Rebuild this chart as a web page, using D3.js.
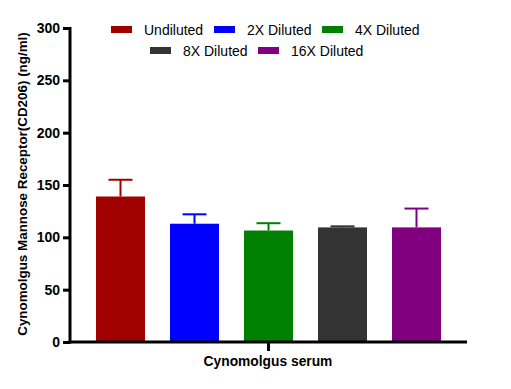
<!DOCTYPE html>
<html>
<head>
<meta charset="utf-8">
<script src="https://cdn.jsdelivr.net/npm/d3@7"></script>
<style>
  body { margin: 0; background: #fff; }
  text { font-family: "Liberation Sans", Arial, sans-serif; }
</style>
</head>
<body>
<div id="chart"></div>
<script>
var groups = ["Undiluted", "2X Diluted", "4X Diluted", "8X Diluted", "16X Diluted"];
var means = [139, 113, 106.5, 109.5, 109.5];
var errs = [16, 9, 7, 1, 18];
var colors = ["#a00000", "#0000ff", "#008000", "#333333", "#800080"];
var yTicks = [0, 50, 100, 150, 200, 250, 300];

var svgWidth = 511;
var svgHeight = 389;

var margin = { top: 28, right: 44, bottom: 47, left: 70 };
var chartWidth = svgWidth - margin.left - margin.right;
var chartHeight = svgHeight - margin.top - margin.bottom;

var svg = d3.select("#chart")
  .append("svg")
  .attr("width", svgWidth)
  .attr("height", svgHeight);

var chartGroup = svg.append("g")
  .attr("transform", `translate(${margin.left}, ${margin.top})`);

var yScale = d3.scaleLinear()
  .domain([0, 300])
  .range([chartHeight, 0]);

var xScale = d3.scaleBand()
  .domain(groups)
  .range([26, 371])
  .paddingInner(0.338)
  .paddingOuter(0);

// bars
chartGroup.selectAll("rect.bar")
  .data(groups)
  .enter()
  .append("rect")
  .classed("bar", true)
  .attr("x", d => xScale(d))
  .attr("width", xScale.bandwidth())
  .attr("y", (d, i) => yScale(means[i]))
  .attr("height", (d, i) => chartHeight - yScale(means[i]))
  .attr("fill", (d, i) => colors[i]);

// error bars
var errGroup = chartGroup.selectAll("g.err")
  .data(groups)
  .enter()
  .append("g")
  .classed("err", true)
  .attr("stroke", (d, i) => colors[i])
  .attr("stroke-width", 2);

errGroup.append("line")
  .attr("x1", d => xScale(d) + xScale.bandwidth() / 2)
  .attr("x2", d => xScale(d) + xScale.bandwidth() / 2)
  .attr("y1", (d, i) => yScale(means[i]))
  .attr("y2", (d, i) => yScale(means[i] + errs[i]));

errGroup.append("line")
  .attr("x1", d => xScale(d) + xScale.bandwidth() / 2 - 12)
  .attr("x2", d => xScale(d) + xScale.bandwidth() / 2 + 12)
  .attr("y1", (d, i) => yScale(means[i] + errs[i]))
  .attr("y2", (d, i) => yScale(means[i] + errs[i]));

// y axis
var leftAxis = d3.axisLeft(yScale)
  .tickValues(yTicks)
  .tickSize(7)
  .tickPadding(3);

var yAxis = chartGroup.append("g")
  .call(leftAxis);
yAxis.select(".domain").attr("stroke", "#000").attr("stroke-width", 3)
  .attr("d", `M0,${chartHeight + 1.5}V-1`);
yAxis.selectAll(".tick line").attr("stroke", "#000").attr("stroke-width", 3);
yAxis.selectAll(".tick text")
  .style("font-size", "14px")
  .style("font-weight", "bold")
  .attr("fill", "#000");

// x axis
chartGroup.append("line")
  .attr("x1", -1.5).attr("x2", 397)
  .attr("y1", chartHeight).attr("y2", chartHeight)
  .attr("stroke", "#000").attr("stroke-width", 3);

chartGroup.append("line")
  .attr("x1", 198.5).attr("x2", 198.5)
  .attr("y1", chartHeight).attr("y2", chartHeight + 9)
  .attr("stroke", "#000").attr("stroke-width", 3);

chartGroup.append("text")
  .attr("x", 198)
  .attr("y", chartHeight + 24)
  .attr("text-anchor", "middle")
  .style("font-size", "13.8px")
  .style("font-weight", "bold")
  .text("Cynomolgus serum");

// y axis title
svg.append("text")
  .attr("transform", `translate(27, ${margin.top + chartHeight / 2 - 1}) rotate(-90)`)
  .attr("text-anchor", "middle")
  .style("font-size", "13.4px")
  .style("font-weight", "bold")
  .text("Cynomolgus Mannose Receptor(CD206) (ng/ml)");

// legend
var legendPos = [
  { x: 111, y: 30 }, { x: 214, y: 30 }, { x: 322, y: 30 },
  { x: 150, y: 51 }, { x: 258, y: 51 }
];

var legend = svg.selectAll("g.legend")
  .data(groups)
  .enter()
  .append("g")
  .classed("legend", true)
  .attr("transform", (d, i) => `translate(${legendPos[i].x}, ${legendPos[i].y})`);

legend.append("rect")
  .attr("x", 0).attr("y", -4)
  .attr("width", 21).attr("height", 7)
  .attr("fill", (d, i) => colors[i]);

legend.append("text")
  .attr("x", 33)
  .attr("y", 5)
  .style("font-size", "14px")
  .attr("fill", "#000")
  .text(d => d);
</script>
</body>
</html>
